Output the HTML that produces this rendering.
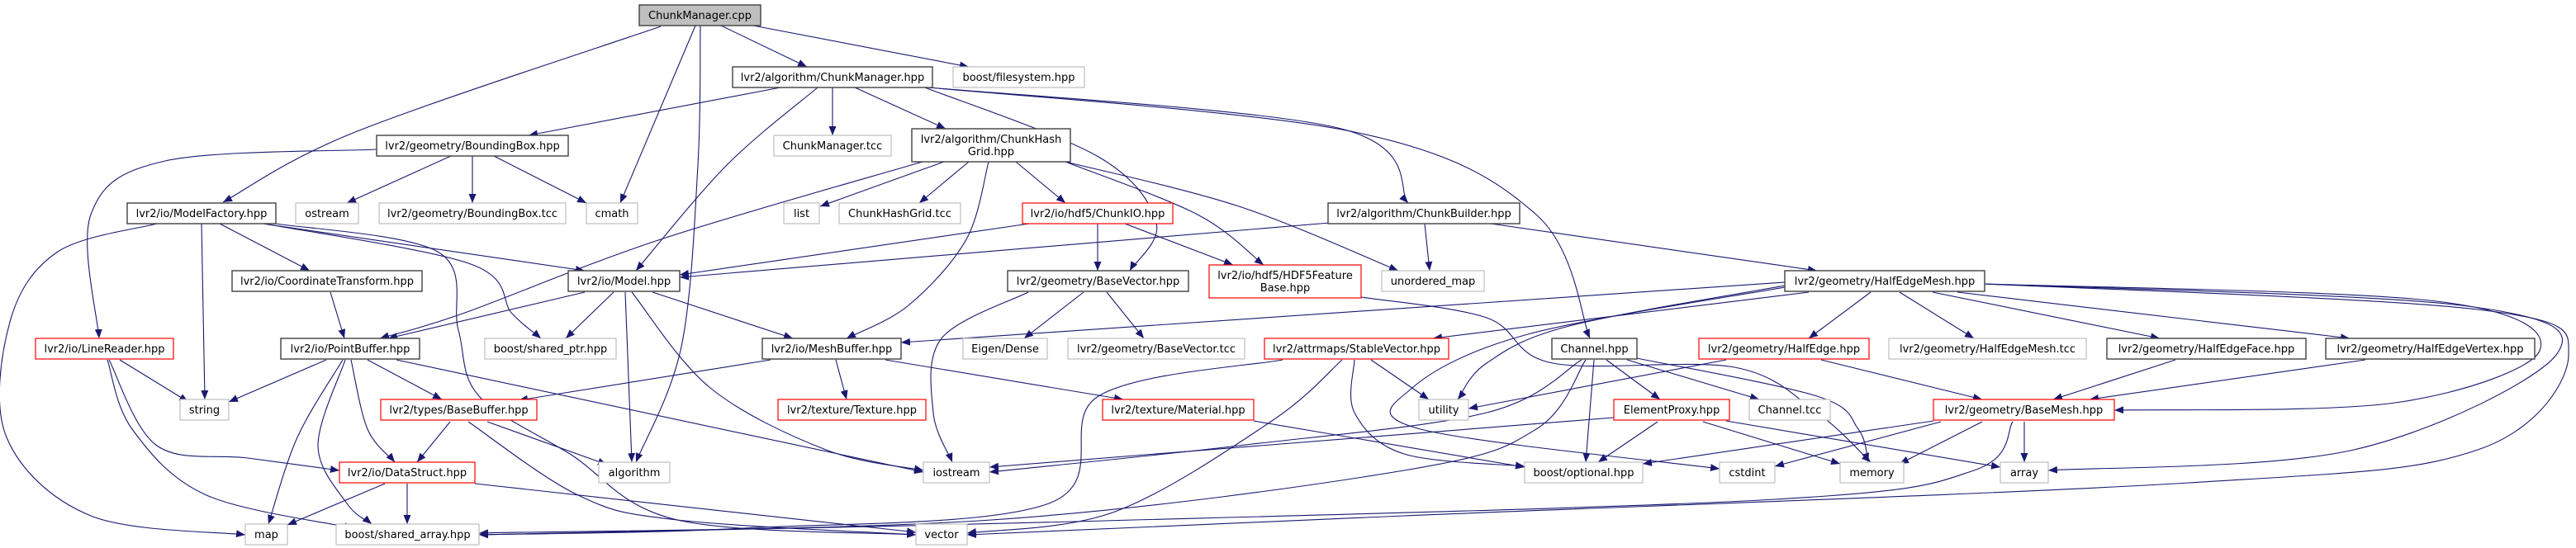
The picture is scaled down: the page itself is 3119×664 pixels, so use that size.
<!DOCTYPE html>
<html><head><meta charset="utf-8">
<style>
html,body{margin:0;padding:0;background:#fff;width:3119px;height:664px;overflow:hidden}
svg{display:block}
text{font-family:"DejaVu Sans","Liberation Sans",sans-serif;font-size:13px;fill:#000}
.b{fill:#fff;stroke:#404040;stroke-width:1.4}
.r{fill:#fff;stroke:#ff0000;stroke-width:1.2}
.g{fill:#fff;stroke:#bfbfbf;stroke-width:1.2}
.e{fill:none;stroke:#191970;stroke-width:1.1}
</style></head><body>
<svg id="s" width="3119" height="664" viewBox="0 0 3119 664" xmlns="http://www.w3.org/2000/svg">
<defs><marker id="a" markerUnits="userSpaceOnUse" markerWidth="12" markerHeight="9" refX="11" refY="4.5" orient="auto"><path d="M0,0 L11,4.5 L0,9 z" fill="#191970"/></marker></defs>
<g id="edges"></g>
<g id="nodes">
<rect x="774" y="6" width="147" height="25" fill="#bfbfbf" stroke="#404040" stroke-width="1.4"/><text x="847.5" y="23" text-anchor="middle">ChunkManager.cpp</text>
<rect class="b" x="887" y="81" width="242" height="25"/><text x="1008" y="98" text-anchor="middle">lvr2/algorithm/ChunkManager.hpp</text>
<rect class="g" x="1154" y="81" width="159" height="25"/><text x="1233.5" y="98" text-anchor="middle">boost/filesystem.hpp</text>
<rect class="b" x="456" y="164" width="232" height="25"/><text x="572" y="181" text-anchor="middle">lvr2/geometry/BoundingBox.hpp</text>
<rect class="g" x="937" y="164" width="142" height="25"/><text x="1008" y="181" text-anchor="middle">ChunkManager.tcc</text>
<rect class="b" x="1104" y="156" width="192" height="40"/><text x="1200" y="173" text-anchor="middle">lvr2/algorithm/ChunkHash</text><text x="1200" y="188" text-anchor="middle">Grid.hpp</text>
<rect class="b" x="154" y="246" width="180" height="25"/><text x="244" y="263" text-anchor="middle">lvr2/io/ModelFactory.hpp</text>
<rect class="g" x="358" y="246" width="76" height="25"/><text x="396" y="263" text-anchor="middle">ostream</text>
<rect class="g" x="459" y="246" width="226" height="25"/><text x="572" y="263" text-anchor="middle">lvr2/geometry/BoundingBox.tcc</text>
<rect class="g" x="710" y="246" width="62" height="25"/><text x="741" y="263" text-anchor="middle">cmath</text>
<rect class="g" x="949" y="246" width="43" height="25"/><text x="970.5" y="263" text-anchor="middle">list</text>
<rect class="g" x="1016" y="246" width="147" height="25"/><text x="1089.5" y="263" text-anchor="middle">ChunkHashGrid.tcc</text>
<rect class="r" x="1238" y="246" width="182" height="25"/><text x="1329" y="263" text-anchor="middle">lvr2/io/hdf5/ChunkIO.hpp</text>
<rect class="b" x="1608" y="246" width="232" height="25"/><text x="1724" y="263" text-anchor="middle">lvr2/algorithm/ChunkBuilder.hpp</text>
<rect class="b" x="281" y="328" width="230" height="25"/><text x="396" y="345" text-anchor="middle">lvr2/io/CoordinateTransform.hpp</text>
<rect class="b" x="688" y="328" width="135" height="25"/><text x="755.5" y="345" text-anchor="middle">lvr2/io/Model.hpp</text>
<rect class="b" x="1220" y="328" width="219" height="25"/><text x="1329.5" y="345" text-anchor="middle">lvr2/geometry/BaseVector.hpp</text>
<rect class="r" x="1464" y="321" width="184" height="40"/><text x="1556" y="338" text-anchor="middle">lvr2/io/hdf5/HDF5Feature</text><text x="1556" y="353" text-anchor="middle">Base.hpp</text>
<rect class="g" x="1673" y="328" width="124" height="25"/><text x="1735" y="345" text-anchor="middle">unordered_map</text>
<rect class="b" x="2161" y="328" width="242" height="25"/><text x="2282" y="345" text-anchor="middle">lvr2/geometry/HalfEdgeMesh.hpp</text>
<rect class="r" x="43" y="410" width="167" height="25"/><text x="126.5" y="427" text-anchor="middle">lvr2/io/LineReader.hpp</text>
<rect class="b" x="340" y="410" width="168" height="25"/><text x="424" y="427" text-anchor="middle">lvr2/io/PointBuffer.hpp</text>
<rect class="g" x="587" y="410" width="159" height="25"/><text x="666.5" y="427" text-anchor="middle">boost/shared_ptr.hpp</text>
<rect class="b" x="923" y="410" width="168" height="25"/><text x="1007" y="427" text-anchor="middle">lvr2/io/MeshBuffer.hpp</text>
<rect class="g" x="1166" y="410" width="102" height="25"/><text x="1217" y="427" text-anchor="middle">Eigen/Dense</text>
<rect class="g" x="1293" y="410" width="214" height="25"/><text x="1400" y="427" text-anchor="middle">lvr2/geometry/BaseVector.tcc</text>
<rect class="r" x="1531" y="410" width="223" height="25"/><text x="1642.5" y="427" text-anchor="middle">lvr2/attrmaps/StableVector.hpp</text>
<rect class="b" x="1879" y="410" width="103" height="25"/><text x="1930.5" y="427" text-anchor="middle">Channel.hpp</text>
<rect class="r" x="2057" y="410" width="206" height="25"/><text x="2160" y="427" text-anchor="middle">lvr2/geometry/HalfEdge.hpp</text>
<rect class="g" x="2287" y="410" width="239" height="25"/><text x="2406.5" y="427" text-anchor="middle">lvr2/geometry/HalfEdgeMesh.tcc</text>
<rect class="b" x="2551" y="410" width="241" height="25"/><text x="2671.5" y="427" text-anchor="middle">lvr2/geometry/HalfEdgeFace.hpp</text>
<rect class="b" x="2816" y="410" width="253" height="25"/><text x="2942.5" y="427" text-anchor="middle">lvr2/geometry/HalfEdgeVertex.hpp</text>
<rect class="g" x="218" y="484" width="59" height="25"/><text x="247.5" y="501" text-anchor="middle">string</text>
<rect class="r" x="461" y="484" width="189" height="25"/><text x="555.5" y="501" text-anchor="middle">lvr2/types/BaseBuffer.hpp</text>
<rect class="r" x="942" y="484" width="179" height="25"/><text x="1031.5" y="501" text-anchor="middle">lvr2/texture/Texture.hpp</text>
<rect class="r" x="1335" y="484" width="183" height="25"/><text x="1426.5" y="501" text-anchor="middle">lvr2/texture/Material.hpp</text>
<rect class="g" x="1718" y="484" width="60" height="25"/><text x="1748" y="501" text-anchor="middle">utility</text>
<rect class="r" x="1954" y="484" width="140" height="25"/><text x="2024" y="501" text-anchor="middle">ElementProxy.hpp</text>
<rect class="g" x="2118" y="484" width="98" height="25"/><text x="2167" y="501" text-anchor="middle">Channel.tcc</text>
<rect class="r" x="2341" y="484" width="219" height="25"/><text x="2450.5" y="501" text-anchor="middle">lvr2/geometry/BaseMesh.hpp</text>
<rect class="r" x="411" y="560" width="164" height="25"/><text x="493" y="577" text-anchor="middle">lvr2/io/DataStruct.hpp</text>
<rect class="g" x="725" y="560" width="86" height="25"/><text x="768" y="577" text-anchor="middle">algorithm</text>
<rect class="g" x="1118" y="560" width="80" height="25"/><text x="1158" y="577" text-anchor="middle">iostream</text>
<rect class="g" x="1846" y="560" width="143" height="25"/><text x="1917.5" y="577" text-anchor="middle">boost/optional.hpp</text>
<rect class="g" x="2082" y="560" width="67" height="25"/><text x="2115.5" y="577" text-anchor="middle">cstdint</text>
<rect class="g" x="2228" y="560" width="77" height="25"/><text x="2266.5" y="577" text-anchor="middle">memory</text>
<rect class="g" x="2422" y="560" width="58" height="25"/><text x="2451" y="577" text-anchor="middle">array</text>
<rect class="g" x="297" y="635" width="51" height="25"/><text x="322.5" y="652" text-anchor="middle">map</text>
<rect class="g" x="407" y="635" width="173" height="25"/><text x="493.5" y="652" text-anchor="middle">boost/shared_array.hpp</text>
<rect class="g" x="1109" y="635" width="62" height="25"/><text x="1140" y="652" text-anchor="middle">vector</text>
</g>
</svg>
<script>
var E=[
[[800,32],[430,160],[270,245]],
[[873,31],[977,81]],
[[912,31],[1173,81]],
[[842,31],[751,246]],
[[848,31],[845,200],[825,420],[770,560]],
[[945,106],[640,164]],
[[1008,106],[1008,164]],
[[1035,106],[1145,156]],
[[990,106],[880,200],[770,328]],
[[1120,106],[1330,190],[1400,270],[1368,328]],
[[1125,106],[1620,155],[1705,246]],
[[1125,106],[1640,160],[1860,260],[1925,410]],
[[456,181],[200,195],[110,260],[120,410]],
[[546,189],[420,246]],
[[572,189],[572,246]],
[[598,189],[710,246]],
[[190,271],[70,305],[12,390],[8,530],[110,625],[297,648]],
[[244,271],[248,484]],
[[266,271],[375,328]],
[[318,271],[708,328]],
[[320,271],[570,320],[620,380],[655,410]],
[[334,271],[530,305],[555,400],[580,480],[690,550],[820,630],[1109,648]],
[[400,354],[417,410]],
[[708,354],[470,410]],
[[743,354],[685,410]],
[[757,354],[765,560]],
[[790,354],[960,410]],
[[765,354],[860,470],[1000,545],[1118,570]],
[[1117,196],[800,290],[560,380],[460,410]],
[[1143,196],[993,250]],
[[1173,196],[1113,246]],
[[1197,196],[1170,290],[1100,370],[1025,410]],
[[1230,196],[1290,246]],
[[1290,196],[1450,260],[1530,321]],
[[1290,196],[1500,250],[1693,328]],
[[1246,271],[823,333]],
[[1329,271],[1329,328]],
[[1362,271],[1493,321]],
[[1610,270],[823,336]],
[[1725,271],[1731,328]],
[[1805,271],[2200,328]],
[[1245,354],[1140,410],[1130,500],[1153,560]],
[[1312,354],[1240,410]],
[[1340,354],[1385,410]],
[[1648,360],[1800,385],[1880,440],[2100,445],[2200,500],[2265,560]],
[[2161,342],[1091,415]],
[[2190,354],[1735,410]],
[[2161,346],[1900,395],[1800,440],[1765,484]],
[[2161,348],[1850,405],[1710,470],[1720,520],[2082,568]],
[[2265,354],[2190,410]],
[[2300,354],[2390,410]],
[[2340,354],[2615,410]],
[[2370,354],[2845,410]],
[[2403,344],[2950,365],[3075,425],[2900,488],[2560,497]],
[[2403,344],[2980,370],[3095,430],[2850,545],[2480,570]],
[[2403,344],[3000,375],[3110,430],[3000,545],[2650,585],[1700,625],[1171,648]],
[[2090,436],[1778,495]],
[[2205,436],[2400,484]],
[[2634,436],[2486,484]],
[[2864,436],[2530,484]],
[[2451,511],[2451,560]],
[[2341,510],[1989,562]],
[[2350,511],[2149,565]],
[[2400,511],[2300,562]],
[[2437,511],[2390,570],[2150,605],[1300,632],[580,648]],
[[1553,436],[1330,480],[1270,610],[900,640],[580,648]],
[[1625,436],[1540,510],[1350,620],[1171,646]],
[[1660,436],[1730,484]],
[[1640,436],[1640,500],[1700,550],[1846,565]],
[[1915,436],[1800,500],[1500,540],[1198,572]],
[[1920,436],[1860,520],[1700,570],[1200,630],[580,646]],
[[1930,436],[1920,560]],
[[1945,436],[2010,484]],
[[1970,436],[2130,484]],
[[1982,434],[2200,480],[2250,520],[2262,560]],
[[1954,506],[1198,566]],
[[2007,511],[1935,560]],
[[2062,511],[2228,562]],
[[2090,510],[2422,566]],
[[933,436],[628,485]],
[[1012,436],[1025,484]],
[[1072,436],[1360,484]],
[[395,436],[277,487]],
[[415,436],[360,530],[325,635]],
[[418,436],[385,540],[420,610],[450,635]],
[[425,436],[445,520],[478,560]],
[[445,436],[535,484]],
[[480,436],[1118,572]],
[[145,436],[228,487]],
[[132,436],[190,540],[300,555],[411,570]],
[[130,436],[160,520],[250,600],[428,640]],
[[545,511],[505,560]],
[[590,511],[735,563]],
[[567,511],[700,600],[820,630],[1109,648]],
[[466,586],[348,636]],
[[493,586],[493,635]],
[[575,586],[1109,645]],
[[1518,510],[1846,566]]
];
function cr(p){
 if(p.length==2)return "M"+p[0]+" L"+p[1];
 var d="M"+p[0][0]+","+p[0][1];
 for(var i=0;i<p.length-1;i++){
  var p0=p[i-1]||p[i],p1=p[i],p2=p[i+1],p3=p[i+2]||p2;
  var c1=[p1[0]+(p2[0]-p0[0])/6,p1[1]+(p2[1]-p0[1])/6];
  var c2=[p2[0]-(p3[0]-p1[0])/6,p2[1]-(p3[1]-p1[1])/6];
  d+=" C"+c1+" "+c2+" "+p2;
 }
 return d;
}
var g=document.getElementById("edges"),h="";
E.forEach(function(p){h+='<path class="e" marker-end="url(#a)" d="'+cr(p)+'"/>';});
g.innerHTML=h;
</script>
</body></html>
